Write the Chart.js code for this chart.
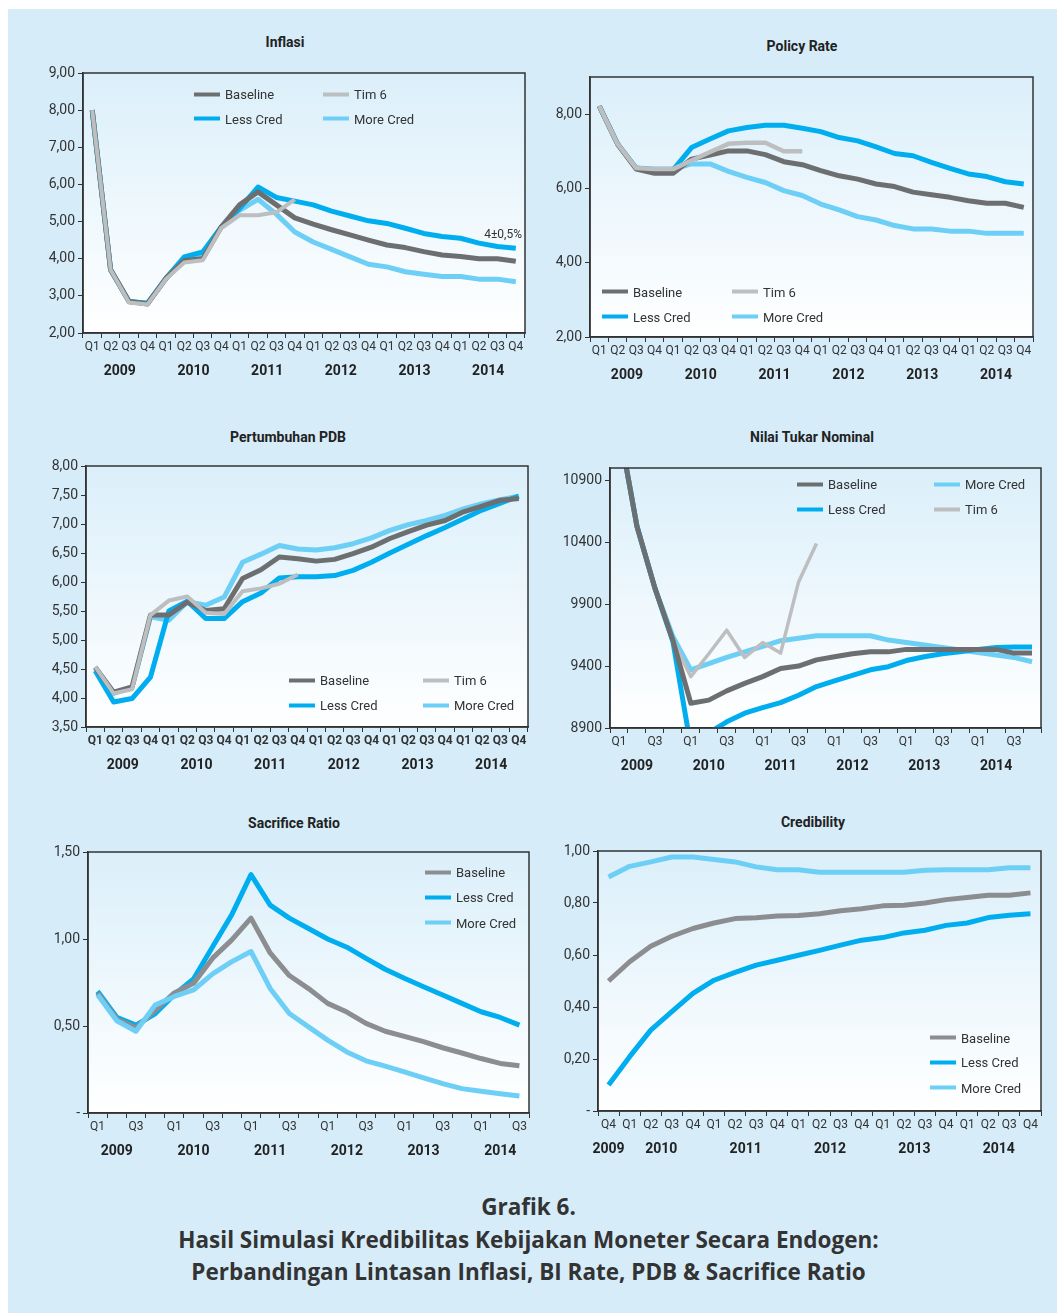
<!DOCTYPE html>
<html>
<head>
<title>Grafik 6 - Simulasi Kredibilitas Kebijakan Moneter</title>
<script src="https://cdn.jsdelivr.net/npm/chart.js"></script>
<style>
body { margin: 0; background: #fff; width: 1057px; height: 1313px; position: relative; overflow: hidden;
  font-family: 'Liberation Sans Narrow', 'Roboto', sans-serif; }
#panel { position: absolute; left: 8px; top: 9px; right: 0; bottom: 0; background: #d6ecf9; }
.box { position: absolute; }
.title { position: absolute; font: bold 14px Roboto, sans-serif; color: #222; transform: translate(-50%, -50%); white-space: nowrap; }
.item { position: absolute; display: flex; align-items: center; white-space: nowrap; transform: translateY(-50%);
  font-size: 13px; color: #333; }
.item .sw { width: 26px; height: 4px; margin-right: 5px; }
#caption { position: absolute; left: 0; right: 0; top: 1191px; text-align: center; font: bold 22.5px 'Open Sans', sans-serif;
  color: #333; line-height: 32.5px; }
</style>
</head>
<body>
<div id="panel"></div>
<div class="box"><canvas id="c1"></canvas></div>
<div class="box"><canvas id="c2"></canvas></div>
<div class="box"><canvas id="c3"></canvas></div>
<div class="box"><canvas id="c4"></canvas></div>
<div class="box"><canvas id="c5"></canvas></div>
<div class="box"><canvas id="c6"></canvas></div>

<div class="title" style="left:285px; top:42px">Inflasi</div>
<div class="title" style="left:802px; top:46px">Policy Rate</div>
<div class="title" style="left:288px; top:437px">Pertumbuhan PDB</div>
<div class="title" style="left:812px; top:437px">Nilai Tukar Nominal</div>
<div class="title" style="left:294px; top:823px">Sacrifice Ratio</div>
<div class="title" style="left:813px; top:822px">Credibility</div>

<div id="caption">Grafik 6.<br>Hasil Simulasi Kredibilitas Kebijakan Moneter Secara Endogen:<br>Perbandingan Lintasan Inflasi, BI Rate, PDB &amp; Sacrifice Ratio</div>

<script>
const YEARS = ['2009', '2010', '2011', '2012', '2013', '2014'];
const QUARTERS = ['Q1', 'Q2', 'Q3', 'Q4'];
const PERIODS = YEARS.flatMap(y => QUARTERS.map(q => ({ q, y })));   // 2009Q1 .. 2014Q4
const PERIODS_SR = PERIODS.slice(0, 23);                              // 2009Q1 .. 2014Q3
const PERIODS_CR = PERIODS.slice(3);                                  // 2009Q4 .. 2014Q4

// Inflasi (%)
const inflBaseline = [8.00, 3.70, 2.85, 2.78, 3.47, 3.95, 4.00, 4.85, 5.45, 5.80, 5.45, 5.10, 4.93, 4.78, 4.64, 4.50, 4.37, 4.30, 4.19, 4.10, 4.06, 4.00, 4.00, 3.93];
const inflLess     = [8.00, 3.70, 2.85, 2.80, 3.47, 4.05, 4.18, 4.85, 5.35, 5.93, 5.65, 5.55, 5.45, 5.28, 5.15, 5.02, 4.95, 4.82, 4.68, 4.60, 4.55, 4.42, 4.33, 4.28];
const inflMore     = [8.00, 3.70, 2.85, 2.80, 3.47, 4.00, 4.12, 4.85, 5.30, 5.60, 5.20, 4.72, 4.45, 4.25, 4.05, 3.85, 3.78, 3.65, 3.58, 3.52, 3.52, 3.45, 3.45, 3.38];
const inflTim6     = [8.00, 3.70, 2.82, 2.77, 3.45, 3.90, 3.96, 4.82, 5.17, 5.17, 5.25, 5.60];
const INFL_TARGET = '4±0,5%';

// Policy Rate (%)
const polBaseline = [8.22, 7.19, 6.52, 6.41, 6.41, 6.79, 6.90, 7.01, 7.01, 6.91, 6.72, 6.64, 6.48, 6.34, 6.25, 6.12, 6.05, 5.90, 5.83, 5.76, 5.67, 5.60, 5.60, 5.49];
const polLess     = [8.22, 7.19, 6.55, 6.50, 6.50, 7.10, 7.33, 7.55, 7.64, 7.70, 7.70, 7.62, 7.53, 7.37, 7.28, 7.12, 6.94, 6.88, 6.70, 6.54, 6.39, 6.32, 6.18, 6.12];
const polMore     = [8.22, 7.19, 6.55, 6.52, 6.52, 6.66, 6.66, 6.46, 6.30, 6.16, 5.94, 5.81, 5.58, 5.42, 5.24, 5.15, 5.00, 4.91, 4.91, 4.85, 4.85, 4.79, 4.79, 4.79];
const polTim6     = [8.22, 7.19, 6.55, 6.52, 6.52, 6.75, 6.98, 7.20, 7.23, 7.23, 7.00, 7.00];

// Pertumbuhan PDB (%)
const pdbBaseline = [4.53, 4.10, 4.19, 5.43, 5.43, 5.65, 5.51, 5.54, 6.06, 6.21, 6.43, 6.40, 6.36, 6.39, 6.49, 6.60, 6.75, 6.87, 6.98, 7.06, 7.21, 7.31, 7.41, 7.44];
const pdbLess     = [4.47, 3.93, 3.99, 4.36, 5.50, 5.67, 5.37, 5.37, 5.66, 5.81, 6.07, 6.09, 6.09, 6.11, 6.20, 6.34, 6.50, 6.65, 6.80, 6.94, 7.09, 7.24, 7.36, 7.48];
const pdbMore     = [4.52, 4.08, 4.18, 5.40, 5.34, 5.66, 5.60, 5.74, 6.34, 6.48, 6.63, 6.57, 6.55, 6.59, 6.66, 6.76, 6.89, 6.99, 7.06, 7.15, 7.26, 7.35, 7.42, 7.48];
const pdbTim6     = [4.54, 4.08, 4.15, 5.43, 5.68, 5.75, 5.47, 5.45, 5.84, 5.89, 5.97, 6.13];

// Nilai Tukar Nominal (Rp/USD)
const ntBaseline = [11330, 10530, 10030, 9610, 9100, 9125, 9200, 9260, 9315, 9380, 9400, 9450, 9475, 9500, 9515, 9515, 9535, 9535, 9535, 9535, 9535, 9535, 9505, 9505];
const ntLess     = [11330, 10530, 10030, 9600, 8750, 8860, 8950, 9020, 9065, 9105, 9165, 9235, 9280, 9325, 9370, 9395, 9445, 9475, 9500, 9515, 9535, 9550, 9555, 9555];
const ntMore     = [11330, 10530, 10030, 9640, 9370, 9420, 9470, 9515, 9560, 9605, 9625, 9645, 9645, 9645, 9645, 9610, 9590, 9570, 9550, 9530, 9510, 9490, 9470, 9435];
const ntTim6     = [11330, 10530, 10030, 9610, 9315, 9500, 9690, 9470, 9590, 9505, 10080, 10390];
const ntTicks    = [8900, 9400, 9900, 10400, 10900];

// Sacrifice Ratio
const srBaseline = [0.69, 0.54, 0.49, 0.59, 0.69, 0.745, 0.89, 0.995, 1.12, 0.92, 0.79, 0.715, 0.63, 0.58, 0.515, 0.47, 0.44, 0.41, 0.375, 0.345, 0.313, 0.285, 0.272];
const srLess     = [0.70, 0.55, 0.505, 0.57, 0.68, 0.77, 0.955, 1.14, 1.37, 1.195, 1.12, 1.06, 1.00, 0.953, 0.889, 0.826, 0.774, 0.726, 0.678, 0.63, 0.582, 0.549, 0.505];
const srMore     = [0.68, 0.53, 0.47, 0.62, 0.67, 0.707, 0.80, 0.87, 0.928, 0.716, 0.572, 0.495, 0.419, 0.351, 0.30, 0.269, 0.236, 0.202, 0.169, 0.14, 0.125, 0.111, 0.098];

// Credibility
const crBaseline = [0.50, 0.574, 0.634, 0.672, 0.702, 0.723, 0.74, 0.743, 0.75, 0.752, 0.759, 0.77, 0.778, 0.789, 0.791, 0.80, 0.813, 0.821, 0.83, 0.83, 0.839];
const crLess     = [0.10, 0.209, 0.311, 0.382, 0.452, 0.503, 0.533, 0.561, 0.58, 0.599, 0.618, 0.638, 0.657, 0.667, 0.685, 0.695, 0.714, 0.723, 0.744, 0.753, 0.759];
const crMore     = [0.90, 0.941, 0.958, 0.977, 0.977, 0.967, 0.958, 0.939, 0.928, 0.928, 0.918, 0.918, 0.918, 0.918, 0.918, 0.926, 0.928, 0.928, 0.928, 0.936, 0.936];

const C_BASE = '#6d6e70', C_BASE_LT = '#8c8d90', C_LESS = '#00aeef', C_MORE = '#6dcff6', C_TIM = '#bdbec0';
const NARROW = "'Liberation Sans Narrow', Roboto, sans-serif";

const comma2 = v => v.toFixed(2).replace('.', ',');
const dash2 = v => v === 0 ? '-' : comma2(v);

// plot background, frame, year row and notes
const framePlugin = {
  id: 'frame',
  beforeDraw(chart) {
    const { ctx, chartArea: a } = chart;
    const g = ctx.createLinearGradient(0, a.top, 0, a.bottom);
    g.addColorStop(0, '#dbeffa');
    g.addColorStop(1, '#ffffff');
    ctx.save();
    ctx.fillStyle = g;
    ctx.fillRect(a.left, a.top, a.right - a.left, a.bottom - a.top);
    ctx.restore();
  },
  afterDraw(chart, args, o) {
    const { ctx, chartArea: a, scales } = chart;
    ctx.save();
    ctx.strokeStyle = '#333';
    ctx.lineWidth = 1.5;
    ctx.strokeRect(a.left, a.top, a.right - a.left, a.bottom - a.top);

    ctx.font = 'bold 14px Roboto, sans-serif';
    ctx.fillStyle = '#222';
    ctx.textAlign = 'center';
    ctx.textBaseline = 'middle';
    YEARS.forEach(yr => {
      const idx = [];
      o.periods.forEach((p, i) => { if (p.y === yr && i % o.step === 0) idx.push(i); });
      if (!idx.length) return;
      const mid = (idx[0] + idx[idx.length - 1]) / 2;
      ctx.fillText(yr, scales.x.getPixelForValue(mid), a.bottom + 38.5);
    });

    if (o.note) {
      const d = chart.data.datasets[o.note.dataset].data;
      ctx.font = '12px ' + NARROW;
      ctx.fillStyle = '#333';
      ctx.textAlign = 'right';
      ctx.fillText(o.note.text, a.right - 3, scales.y.getPixelForValue(d[d.length - 1]) - 13);
    }
    ctx.restore();
  }
};

function drawPanel(id, cfg) {
  const cv = document.getElementById(id);
  const [cl, ct, cw, ch] = cfg.canvas;
  const [L, T, R, B] = cfg.area;
  const box = cv.parentElement;
  box.style.left = cl + 'px';
  box.style.top = ct + 'px';
  cv.width = cw;
  cv.height = ch;
  const step = cfg.step || 1;
  const yc = cfg.y;

  new Chart(cv, {
    type: 'line',
    data: {
      labels: cfg.periods.map(p => p.q),
      datasets: cfg.series.map(s => ({
        label: s.label, data: s.data, borderColor: s.color, borderWidth: s.width || 5,
        order: s.z, pointRadius: 0, tension: 0, fill: false, clip: 0,
        borderJoinStyle: 'round'
      }))
    },
    options: {
      responsive: false,
      animation: false,
      events: [],
      layout: { padding: { top: T - ct, right: cl + cw - R, left: 0, bottom: 0 } },
      plugins: {
        legend: { display: false },
        tooltip: { enabled: false },
        frame: { periods: cfg.periods, step, note: cfg.note }
      },
      scales: {
        x: {
          offset: true,
          grid: { display: true, drawOnChartArea: false, tickLength: 5, color: '#333', offset: true },
          border: { color: '#333', width: 1.5 },
          ticks: {
            autoSkip: false, maxRotation: 0, padding: 2, color: '#333',
            font: { family: NARROW, size: 12, weight: cfg.boldTicks ? 'bold' : 'normal' },
            callback: (v, i) => i % step === 0 ? cfg.periods[i].q : ''
          },
          afterFit: s => { s.height = ct + ch - B; }
        },
        y: {
          min: yc.min, max: yc.max,
          grid: { display: true, drawOnChartArea: false, tickLength: 5, color: '#333' },
          border: { color: '#333', width: 1.5 },
          ticks: {
            stepSize: yc.step, padding: 3, color: '#333',
            font: { family: NARROW, size: 14 },
            callback: yc.fmt
          },
          afterBuildTicks: s => {
            if (yc.values) s.ticks = yc.values.map(value => ({ value }));
            else if (yc.hide !== undefined) s.ticks = s.ticks.filter(t => t.value !== yc.hide);
          },
          afterFit: s => { s.width = L - cl; }
        }
      }
    },
    plugins: [framePlugin]
  });

  // legend as page text
  const lg = cfg.legend;
  lg.items.forEach((label, i) => {
    const s = cfg.series.find(x => x.label === label);
    const el = document.createElement('div');
    el.className = 'item';
    el.style.left = (lg.left + (i % lg.cols) * lg.colW) + 'px';
    el.style.top = lg.rows[Math.floor(i / lg.cols)] + 'px';
    el.innerHTML = '<span class="sw" style="background:' + s.color + '"></span><span>' + label + '</span>';
    document.body.appendChild(el);
  });
}

drawPanel('c1', {
  canvas: [20, 55, 520, 340], area: [83, 73, 525, 333],
  periods: PERIODS,
  y: { min: 2, max: 9, step: 1, fmt: comma2 },
  series: [
    { label: 'Baseline', data: inflBaseline, color: C_BASE, z: 1 },
    { label: 'Less Cred', data: inflLess, color: C_LESS, z: 2 },
    { label: 'More Cred', data: inflMore, color: C_MORE, z: 3 },
    { label: 'Tim 6', data: inflTim6, color: C_TIM, z: 0, width: 4 }
  ],
  note: { text: INFL_TARGET, dataset: 1 },
  legend: { items: ['Baseline', 'Tim 6', 'Less Cred', 'More Cred'], left: 194, rows: [94.3, 118.7], colW: 129, cols: 2 }
});

drawPanel('c2', {
  canvas: [540, 55, 510, 340], area: [590, 77, 1033, 337],
  periods: PERIODS,
  y: { min: 2, max: 9, step: 2, fmt: comma2, hide: 9 },
  series: [
    { label: 'Baseline', data: polBaseline, color: C_BASE, z: 1 },
    { label: 'Less Cred', data: polLess, color: C_LESS, z: 2 },
    { label: 'More Cred', data: polMore, color: C_MORE, z: 3 },
    { label: 'Tim 6', data: polTim6, color: C_TIM, z: 0, width: 4.5 }
  ],
  legend: { items: ['Baseline', 'Tim 6', 'Less Cred', 'More Cred'], left: 602, rows: [291.7, 316.7], colW: 130, cols: 2 }
});

drawPanel('c3', {
  canvas: [20, 445, 520, 340], area: [86, 466, 528, 727],
  periods: PERIODS, boldTicks: true,
  y: { min: 3.5, max: 8, step: 0.5, fmt: comma2 },
  series: [
    { label: 'Baseline', data: pdbBaseline, color: C_BASE, z: 1 },
    { label: 'Less Cred', data: pdbLess, color: C_LESS, z: 2 },
    { label: 'More Cred', data: pdbMore, color: C_MORE, z: 3 },
    { label: 'Tim 6', data: pdbTim6, color: C_TIM, z: 0, width: 4 }
  ],
  legend: { items: ['Baseline', 'Tim 6', 'Less Cred', 'More Cred'], left: 289, rows: [680, 705], colW: 134, cols: 2 }
});

drawPanel('c4', {
  canvas: [540, 445, 515, 340], area: [610, 468, 1041, 728],
  periods: PERIODS, step: 2,
  y: { min: 8900, max: 11000, values: ntTicks, fmt: v => String(v) },
  series: [
    { label: 'Baseline', data: ntBaseline, color: C_BASE, z: 0 },
    { label: 'Less Cred', data: ntLess, color: C_LESS, z: 2 },
    { label: 'More Cred', data: ntMore, color: C_MORE, z: 3 },
    { label: 'Tim 6', data: ntTim6, color: C_TIM, z: 1, width: 3.5 }
  ],
  legend: { items: ['Baseline', 'More Cred', 'Less Cred', 'Tim 6'], left: 797, rows: [484, 509], colW: 137, cols: 2 }
});

drawPanel('c5', {
  canvas: [20, 835, 520, 340], area: [88, 852, 529, 1113],
  periods: PERIODS_SR, step: 2,
  y: { min: 0, max: 1.5, step: 0.5, fmt: dash2 },
  series: [
    { label: 'Baseline', data: srBaseline, color: C_BASE_LT, z: 1 },
    { label: 'Less Cred', data: srLess, color: C_LESS, z: 2 },
    { label: 'More Cred', data: srMore, color: C_MORE, z: 0 }
  ],
  legend: { items: ['Baseline', 'Less Cred', 'More Cred'], left: 425, rows: [872, 897, 922.7], colW: 0, cols: 1 }
});

drawPanel('c6', {
  canvas: [540, 835, 515, 340], area: [598, 851, 1041, 1111],
  periods: PERIODS_CR,
  y: { min: 0, max: 1, step: 0.2, fmt: dash2 },
  series: [
    { label: 'Baseline', data: crBaseline, color: C_BASE_LT, z: 1 },
    { label: 'Less Cred', data: crLess, color: C_LESS, z: 2 },
    { label: 'More Cred', data: crMore, color: C_MORE, z: 0 }
  ],
  legend: { items: ['Baseline', 'Less Cred', 'More Cred'], left: 930, rows: [1037.7, 1062.3, 1087.7], colW: 0, cols: 1 }
});
</script>
</body>
</html>
